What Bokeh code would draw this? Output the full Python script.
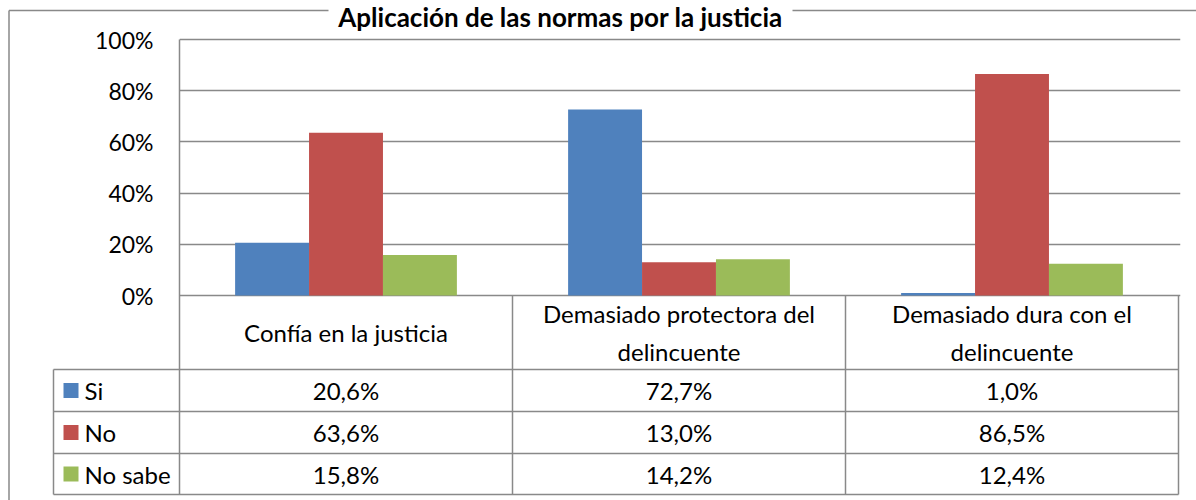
from bokeh.plotting import figure
from bokeh.models import Range1d, FixedTicker, PrintfTickFormatter, ColumnDataSource
from bokeh.embed import file_html
from bokeh.resources import INLINE
from bokeh.core.properties import value

# ---------------- data ----------------
title = "Aplicación de las normas por la justicia"
categories = ["Confía en la justicia",
              "Demasiado protectora del delincuente",
              "Demasiado dura con el delincuente"]
header_labels = ["Confía en la justicia",
                 "Demasiado protectora del\ndelincuente",
                 "Demasiado dura con el\ndelincuente"]
series_names = ["Si", "No", "No sabe"]
si_values = [20.6, 72.7, 1.0]
no_values = [63.6, 13.0, 86.5]
no_sabe_values = [15.8, 14.2, 12.4]
series_colors = ["#4F81BD", "#C0504D", "#9BBB59"]
y_ticks = [0, 20, 40, 60, 80, 100]

series_values = [si_values, no_values, no_sabe_values]

# ---------------- layout constants (pixels) ----------------
W, H = 1196, 500
PX_CAT = 333.0          # pixels per category column
PX_PCT = 2.56           # pixels per percent
FONT = "Lato"
FS_AXIS = "23px"
FS = "24px"
GRID_COLOR = "#898989"
X0, Y0 = 179, 295       # pixel position of (0, 0%)

n = len(categories)
min_left, min_right, min_top, min_bottom = X0, 16, 35, 3
frame_w = W - min_left - min_right
frame_h = H - min_top - min_bottom
x_end = frame_w / PX_CAT
y_end = 100 + (Y0 - 256 - min_top) / PX_PCT
y_start = y_end - frame_h / PX_PCT

def dx(px):  # pixel x -> data
    return (px - X0) / PX_CAT

def dy(py):  # pixel y -> data
    return (Y0 - py) / PX_PCT

p = figure(width=W, height=H, output_backend="svg", toolbar_location=None,
           x_range=Range1d(0, x_end), y_range=Range1d(y_start, y_end),
           x_axis_location=None,
           min_border_left=min_left, min_border_right=min_right,
           min_border_top=min_top, min_border_bottom=min_bottom)
p.outline_line_color = None
p.background_fill_color = "white"
p.border_fill_color = "white"
p.xgrid.visible = False
p.ygrid.ticker = FixedTicker(ticks=y_ticks)
p.ygrid.grid_line_color = GRID_COLOR
p.ygrid.grid_line_width = 1.5

ax = p.yaxis[0]
ax.ticker = FixedTicker(ticks=y_ticks)
ax.formatter = PrintfTickFormatter(format="%d%%")
ax.axis_line_color = None
ax.major_tick_line_color = None
ax.minor_tick_line_color = None
ax.major_tick_out = 0
ax.major_label_standoff = 26
ax.major_label_text_font = FONT
ax.major_label_text_font_size = FS_AXIS
ax.major_label_text_color = "black"

# ---------------- bars ----------------
bar_w = 0.222
offsets = [-bar_w, 0.0, bar_w]
for vals, off, col in zip(series_values, offsets, series_colors):
    src = ColumnDataSource(dict(x=[i + 0.5 + off for i in range(n)], top=vals))
    p.vbar(x="x", top="top", bottom=0, width=bar_w, source=src,
           fill_color=col, line_color=None)

# ---------------- data table ----------------
row_edges = [295, 369, 411, 453, 494]      # pixel rows of the table
legend_left = dx(53)
table_bottom = dy(row_edges[-1])

vx0, vy0, vx1, vy1 = [], [], [], []
for i in range(n + 1):
    vx0.append(i); vx1.append(i)
    vy0.append(100 if i == 0 else 0); vy1.append(table_bottom)
vx0.append(legend_left); vx1.append(legend_left)
vy0.append(dy(row_edges[1])); vy1.append(table_bottom)
for r in row_edges[1:]:
    vx0.append(legend_left); vx1.append(n)
    vy0.append(dy(r)); vy1.append(dy(r))
p.segment(x0=vx0, y0=vy0, x1=vx1, y1=vy1, line_color=GRID_COLOR,
          line_width=1.5, level="annotation")

# outer chart border (top, interrupted behind the title, and left)
p.segment(x0=[dx(8.5), dx(792), dx(8.5)], y0=[dy(10), dy(10), dy(10)],
          x1=[dx(328), dx(1300), dx(8.5)], y1=[dy(10), dy(10), dy(600)],
          line_color=GRID_COLOR, line_width=1.5, level="annotation")

# category headers
p.text(x=[i + 0.5 for i in range(n)], y=[dy((row_edges[0] + row_edges[1]) / 2)] * n,
       text=header_labels, text_font=value(FONT), text_font_size=FS,
       text_align="center", text_baseline="middle", text_line_height=1.3,
       text_color="black", level="annotation")

def fmt(v):
    return f"{v:.1f}".replace(".", ",") + "%"

tx, ty, tt = [], [], []
for s, vals in enumerate(series_values):
    yc = dy((row_edges[s + 1] + row_edges[s + 2]) / 2)
    for i, v in enumerate(vals):
        tx.append(i + 0.5); ty.append(yc); tt.append(fmt(v))
p.text(x=tx, y=ty, text=tt, text_font=value(FONT), text_font_size=FS,
       text_align="center", text_baseline="middle", text_color="black",
       level="annotation")

# legend keys (drawn as short thick segments so they render outside the frame)
ly = [dy((row_edges[s + 1] + row_edges[s + 2]) / 2) for s in range(len(series_names))]
k = len(series_names)
p.segment(x0=[dx(63)] * k, y0=ly, x1=[dx(78)] * k, y1=ly,
          line_color=series_colors, line_width=15, line_cap="butt",
          level="annotation")
p.text(x=[dx(84)] * k, y=ly, text=series_names,
       text_font=value(FONT), text_font_size=FS, text_align="left",
       text_baseline="middle", text_color="black", level="annotation")

# title at the very top of the chart
p.text(x=[dx(560)], y=[dy(0)], text=[title],
       text_font=value(FONT), text_font_style="bold", text_font_size="26px",
       text_align="center", text_baseline="top", text_color="black",
       level="annotation")

open("out.html", "w").write(file_html(p, INLINE))
